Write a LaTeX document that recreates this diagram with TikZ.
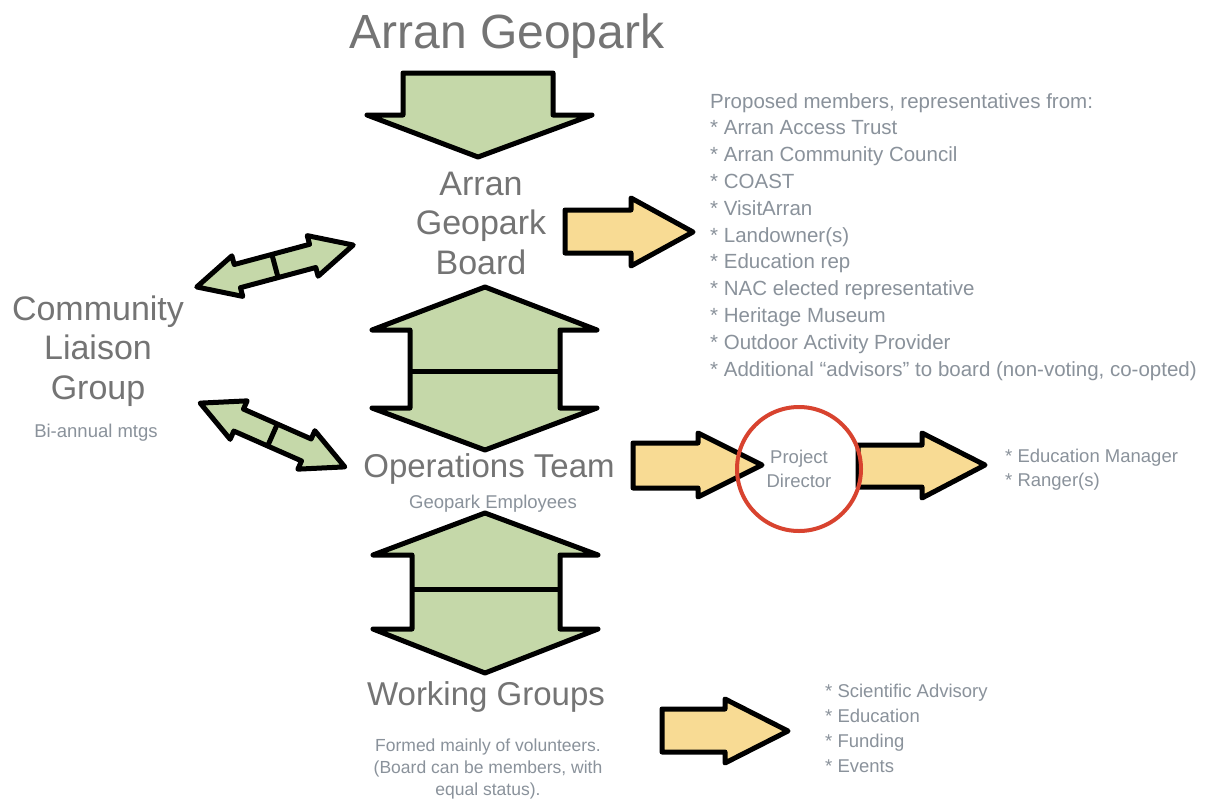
\documentclass[tikz,border=0pt]{standalone}
\usepackage{fontspec}
\setmainfont{Liberation Sans}
\definecolor{geogreen}{HTML}{C5D8A9}
\definecolor{geoyellow}{HTML}{F8DB94}
\definecolor{circlered}{HTML}{D8432F}
\definecolor{headgray}{HTML}{747474}
\definecolor{notegray}{HTML}{8A929B}

\begin{document}
\begin{tikzpicture}[x=1pt,y=-1pt,
    greenarrow/.style={draw=black, fill=geogreen, line width=5pt, line join=round},
    yellowarrow/.style={draw=black, fill=geoyellow, line width=5pt, line join=round},
    divider/.style={draw=black, line width=5pt},
    bigtext/.style={text=headgray, font=\fontsize{33}{39.5}\selectfont, inner sep=0pt, align=center},
    smalltext/.style={text=notegray, font=\fontsize{18.5}{24}\selectfont, inner sep=0pt}]

	\fill [white] (0,0) rectangle (1210,801);
	\useasboundingbox (0,0) rectangle (1210,801);

	% title and the board
	\node [bigtext, font=\fontsize{48}{56}\selectfont, anchor=base] (title) at (507,48) {Arran Geopark};
	\draw [greenarrow] (403,73) -- (553,73) -- (553,115) -- (592,115) -- (478,157) -- (367,115) -- (403,115) -- cycle;
	\node [bigtext, font=\fontsize{34}{39.5}\selectfont, anchor=base] (board) at (481,274) {Arran\\Geopark\\Board};

	\draw [yellowarrow] (565,210) -- (631,210) -- (631,198) -- (693,232) -- (631,266) -- (631,253) -- (565,253) -- cycle;
	\node [smalltext, font=\fontsize{20.5}{26.8}\selectfont, anchor=base west, align=left] (members) at (710,376)
		{Proposed members, representatives from:\\
		* Arran Access Trust\\
		* Arran Community Council\\
		* COAST\\
		* VisitArran\\
		* Landowner(s)\\
		* Education rep\\
		* NAC elected representative\\
		* Heritage Museum\\
		* Outdoor Activity Provider\\
		* Additional “advisors” to board (non-voting, co-opted)};

	% board <-> operations
	\draw [greenarrow] (485,287) -- (597,330) -- (560,330) -- (560,408) -- (597,408) -- (485,450) -- (372,408) -- (410,408) -- (410,330) -- (372,330) -- cycle;
	\draw [divider] (410,371) -- (560,371);

	% community liaison
	\node [bigtext, font=\fontsize{34}{39.5}\selectfont, anchor=base] (liaison) at (98,399) {Community\\Liaison\\Group};
	\node [smalltext, anchor=base] (biannual) at (96,437) {Bi-annual mtgs};
	\begin{scope}[shift={(275,266)}, rotate=15]
		\draw [greenarrow] (-81,0) -- (-39,21) -- (-39,12) -- (39,12) -- (39,21) -- (81,0) -- (39,-21) -- (39,-12) -- (-39,-12) -- (-39,-21) -- cycle;
		\draw [divider] (0,-12) -- (0,12);
	\end{scope}
	\begin{scope}[shift={(272.5,435)}, rotate=-23.8]
		\draw [greenarrow] (-79,0) -- (-37,21) -- (-37,12) -- (37,12) -- (37,21) -- (79,0) -- (37,-21) -- (37,-12) -- (-37,-12) -- (-37,-21) -- cycle;
		\draw [divider] (0,-12) -- (0,12);
	\end{scope}

	% operations team
	\node [bigtext, anchor=base] (ops) at (489,477) {Operations Team};
	\node [smalltext, anchor=base] (employees) at (493,508) {Geopark Employees};
	\draw [yellowarrow] (633,443) -- (698,443) -- (698,433) -- (762,465) -- (698,497) -- (698,488) -- (633,488) -- cycle;
	\draw [yellowarrow] (858,445) -- (922,445) -- (922,433) -- (985,465) -- (922,498) -- (922,487) -- (858,487) -- cycle;
	\node [smalltext, circle, draw=circlered, line width=4pt, minimum size=124pt, align=center] (director) at (799,469) {Project\\Director};
	\node [smalltext, anchor=base west, align=left] (staff) at (1005,486) {* Education Manager\\* Ranger(s)};

	% operations <-> working groups
	\draw [greenarrow] (485,513) -- (598,555) -- (560,555) -- (560,629) -- (598,629) -- (485,673) -- (373,629) -- (412,629) -- (412,555) -- (373,555) -- cycle;
	\draw [divider] (412,589) -- (560,589);

	% working groups
	\node [bigtext, anchor=base] (working) at (486,705) {Working Groups};
	\node [smalltext, font=\fontsize{17.5}{22}\selectfont, anchor=base, align=center] (volunteers) at (488,795)
		{Formed mainly of volunteers.\\(Board can be members, with\\equal status).};
	\draw [yellowarrow] (662,709) -- (725,709) -- (725,699) -- (788,731) -- (725,763) -- (725,752) -- (662,752) -- cycle;
	\node [smalltext, font=\fontsize{18.5}{25}\selectfont, anchor=base west, align=left] (groups) at (825,772)
		{* Scientific Advisory\\* Education\\* Funding\\* Events};
\end{tikzpicture}
\end{document}
